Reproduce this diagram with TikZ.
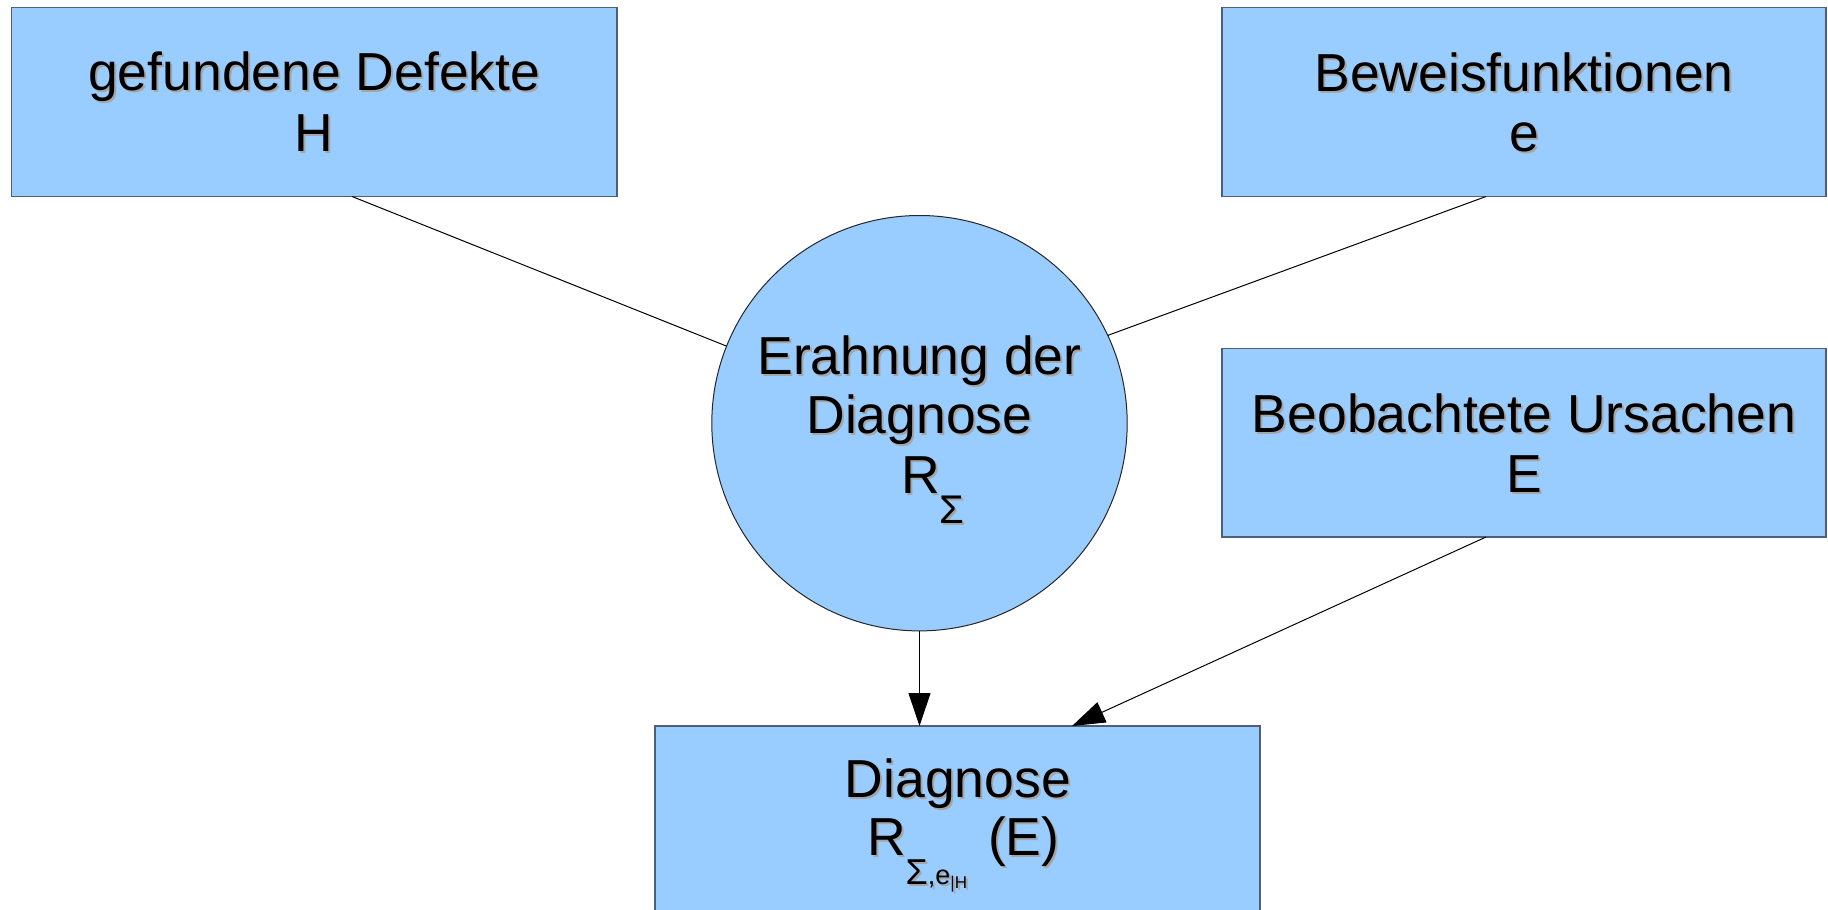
\documentclass[tikz,border=0pt]{standalone}
\usepackage{fontspec}
\setmainfont{Liberation Sans}
\usetikzlibrary{arrows.meta}
\definecolor{boxfill}{HTML}{99CCFF}
\definecolor{boxline}{RGB}{80,95,120}
\definecolor{shadowc}{RGB}{165,165,165}
\newcommand\shd[1]{\leavevmode\rlap{\kern1pt\raisebox{-1pt}{\color{shadowc}#1}}#1}
\newcommand\bigfont{\fontsize{26.75}{30}\selectfont}
\begin{document}
\begin{tikzpicture}[x=0.5pt,y=-0.5pt,
  box/.style={draw=boxline, line width=0.7pt, fill=boxfill, inner sep=0pt, outer sep=0pt, anchor=north west},
  rnd/.style={circle, draw=black!85, line width=0.5pt, fill=boxfill, inner sep=0pt, outer sep=0pt, minimum size=207.7pt},
  lbl/.style={inner sep=0pt, outer sep=0pt, anchor=base, font=\bigfont},
  conn/.style={draw=black, line width=0.5pt},
  arr/.style={conn, -{Triangle[length=16.5pt,width=11pt]}}]
\useasboundingbox (0,0) rectangle (1828,910);
% shapes
\node[box, minimum width=302.75pt, minimum height=94.5pt] (h) at (11.5,7.5) {};
\node[box, minimum width=302pt, minimum height=94.5pt] (b) at (1222,7.5) {};
\node[box, minimum width=302pt, minimum height=94.25pt] (u) at (1222,348.5) {};
\node[box, minimum width=302.5pt, minimum height=95pt] (d) at (655,726) {};
\node[rnd] (c) at (919.5,423.2) {};
% connectors
\draw[conn] ([xshift=18.9pt]h.south) -- (c);
\draw[conn] ([xshift=-19pt]b.south) -- (c.25.4);
\draw[arr] (c.south) -- (d.north -| c.south);
\draw[arr] ([xshift=-19pt]u.south) -- ([xshift=57.25pt]d.north);
% labels
\node[lbl] (h1) at (314.25,90.7) {\shd{gefundene Defekte}};
\node[lbl] (h2) at (314.25,151) {\shd{H}};
\node[lbl] (b1) at (1524,91) {\shd{Beweisfunktionen}};
\node[lbl] (b2) at (1524,151) {\shd{e}};
\node[lbl] (u1) at (1524,432) {\shd{Beobachtete Ursachen}};
\node[lbl] (u2) at (1524,492) {\shd{E}};
\node[lbl] (c1) at (919.5,374) {\shd{Erahnung der}};
\node[lbl] (c2) at (919.5,433.5) {\shd{Diagnose}};
\node[lbl, anchor=base west] (c3) at (901,493) {\shd{R\raisebox{-15pt}{\fontsize{20}{20}\selectfont Σ}}};
\node[lbl] (d1) at (958,797) {\shd{Diagnose}};
\node[lbl, anchor=base west] (d2) at (867,855) {\shd{R\raisebox{-14.5pt}{\fontsize{18}{18}\selectfont Σ\fontsize{13.5}{13.5}\selectfont ,e\raisebox{-2pt}{\fontsize{8.5}{8.5}\selectfont |H}}}};
\node[lbl, anchor=base west] (d3) at (988,855) {\shd{(E)}};
\end{tikzpicture}
\end{document}
